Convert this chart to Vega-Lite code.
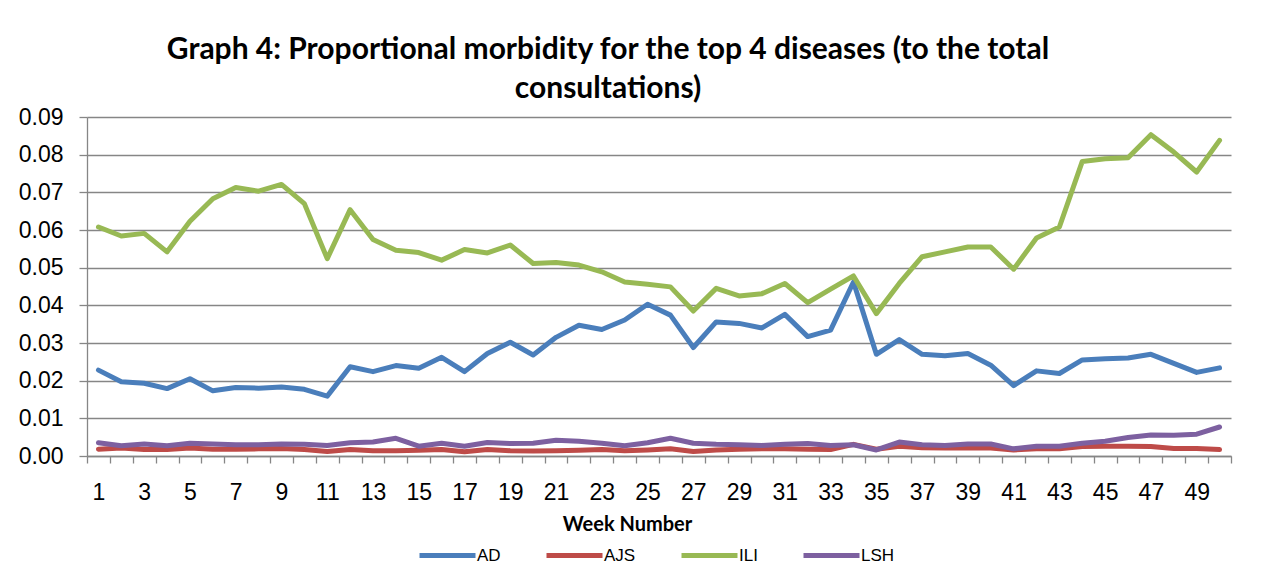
{
  "$schema": "https://vega.github.io/schema/vega-lite/v6.json",
  "autosize": {"type": "none"},
  "padding": {"left": 87, "top": 117, "right": 30, "bottom": 129},
  "width": 1144,
  "height": 339,
  "background": "white",
  "title": {
    "text": ["Graph 4: Proportional morbidity for the top 4 diseases (to the total", "consultations)"],
    "anchor": "middle",
    "frame": "group",
    "dx": -51,
    "font": "Lato",
    "fontWeight": "bold",
    "fontSize": 30,
    "lineHeight": 39,
    "color": "black",
    "offset": 2
  },
  "data": {"values": [
    {"week":1,"disease":"AD","value":0.0228},{"week":1,"disease":"AJS","value":0.0018},{"week":1,"disease":"ILI","value":0.0608},{"week":1,"disease":"LSH","value":0.0035},
    {"week":2,"disease":"AD","value":0.0197},{"week":2,"disease":"AJS","value":0.0021},{"week":2,"disease":"ILI","value":0.0584},{"week":2,"disease":"LSH","value":0.0027},
    {"week":3,"disease":"AD","value":0.0193},{"week":3,"disease":"AJS","value":0.0017},{"week":3,"disease":"ILI","value":0.0591},{"week":3,"disease":"LSH","value":0.0032},
    {"week":4,"disease":"AD","value":0.0179},{"week":4,"disease":"AJS","value":0.0017},{"week":4,"disease":"ILI","value":0.0542},{"week":4,"disease":"LSH","value":0.0027},
    {"week":5,"disease":"AD","value":0.0205},{"week":5,"disease":"AJS","value":0.0021},{"week":5,"disease":"ILI","value":0.0623},{"week":5,"disease":"LSH","value":0.0034},
    {"week":6,"disease":"AD","value":0.0173},{"week":6,"disease":"AJS","value":0.0018},{"week":6,"disease":"ILI","value":0.0683},{"week":6,"disease":"LSH","value":0.0032},
    {"week":7,"disease":"AD","value":0.0182},{"week":7,"disease":"AJS","value":0.0018},{"week":7,"disease":"ILI","value":0.0713},{"week":7,"disease":"LSH","value":0.0030},
    {"week":8,"disease":"AD","value":0.0180},{"week":8,"disease":"AJS","value":0.0019},{"week":8,"disease":"ILI","value":0.0703},{"week":8,"disease":"LSH","value":0.0030},
    {"week":9,"disease":"AD","value":0.0183},{"week":9,"disease":"AJS","value":0.0020},{"week":9,"disease":"ILI","value":0.0721},{"week":9,"disease":"LSH","value":0.0032},
    {"week":10,"disease":"AD","value":0.0177},{"week":10,"disease":"AJS","value":0.0017},{"week":10,"disease":"ILI","value":0.0670},{"week":10,"disease":"LSH","value":0.0031},
    {"week":11,"disease":"AD","value":0.0159},{"week":11,"disease":"AJS","value":0.0012},{"week":11,"disease":"ILI","value":0.0524},{"week":11,"disease":"LSH","value":0.0028},
    {"week":12,"disease":"AD","value":0.0237},{"week":12,"disease":"AJS","value":0.0017},{"week":12,"disease":"ILI","value":0.0654},{"week":12,"disease":"LSH","value":0.0035},
    {"week":13,"disease":"AD","value":0.0224},{"week":13,"disease":"AJS","value":0.0014},{"week":13,"disease":"ILI","value":0.0575},{"week":13,"disease":"LSH","value":0.0037},
    {"week":14,"disease":"AD","value":0.0240},{"week":14,"disease":"AJS","value":0.0014},{"week":14,"disease":"ILI","value":0.0546},{"week":14,"disease":"LSH","value":0.0047},
    {"week":15,"disease":"AD","value":0.0233},{"week":15,"disease":"AJS","value":0.0015},{"week":15,"disease":"ILI","value":0.0540},{"week":15,"disease":"LSH","value":0.0026},
    {"week":16,"disease":"AD","value":0.0262},{"week":16,"disease":"AJS","value":0.0017},{"week":16,"disease":"ILI","value":0.0520},{"week":16,"disease":"LSH","value":0.0034},
    {"week":17,"disease":"AD","value":0.0224},{"week":17,"disease":"AJS","value":0.0011},{"week":17,"disease":"ILI","value":0.0548},{"week":17,"disease":"LSH","value":0.0026},
    {"week":18,"disease":"AD","value":0.0272},{"week":18,"disease":"AJS","value":0.0017},{"week":18,"disease":"ILI","value":0.0539},{"week":18,"disease":"LSH","value":0.0036},
    {"week":19,"disease":"AD","value":0.0302},{"week":19,"disease":"AJS","value":0.0014},{"week":19,"disease":"ILI","value":0.0560},{"week":19,"disease":"LSH","value":0.0033},
    {"week":20,"disease":"AD","value":0.0268},{"week":20,"disease":"AJS","value":0.0013},{"week":20,"disease":"ILI","value":0.0511},{"week":20,"disease":"LSH","value":0.0034},
    {"week":21,"disease":"AD","value":0.0315},{"week":21,"disease":"AJS","value":0.0014},{"week":21,"disease":"ILI","value":0.0514},{"week":21,"disease":"LSH","value":0.0042},
    {"week":22,"disease":"AD","value":0.0347},{"week":22,"disease":"AJS","value":0.0015},{"week":22,"disease":"ILI","value":0.0507},{"week":22,"disease":"LSH","value":0.0039},
    {"week":23,"disease":"AD","value":0.0336},{"week":23,"disease":"AJS","value":0.0017},{"week":23,"disease":"ILI","value":0.0489},{"week":23,"disease":"LSH","value":0.0034},
    {"week":24,"disease":"AD","value":0.0361},{"week":24,"disease":"AJS","value":0.0014},{"week":24,"disease":"ILI","value":0.0462},{"week":24,"disease":"LSH","value":0.0027},
    {"week":25,"disease":"AD","value":0.0403},{"week":25,"disease":"AJS","value":0.0016},{"week":25,"disease":"ILI","value":0.0456},{"week":25,"disease":"LSH","value":0.0035},
    {"week":26,"disease":"AD","value":0.0374},{"week":26,"disease":"AJS","value":0.0019},{"week":26,"disease":"ILI","value":0.0449},{"week":26,"disease":"LSH","value":0.0047},
    {"week":27,"disease":"AD","value":0.0288},{"week":27,"disease":"AJS","value":0.0012},{"week":27,"disease":"ILI","value":0.0385},{"week":27,"disease":"LSH","value":0.0034},
    {"week":28,"disease":"AD","value":0.0356},{"week":28,"disease":"AJS","value":0.0016},{"week":28,"disease":"ILI","value":0.0445},{"week":28,"disease":"LSH","value":0.0031},
    {"week":29,"disease":"AD","value":0.0352},{"week":29,"disease":"AJS","value":0.0018},{"week":29,"disease":"ILI","value":0.0425},{"week":29,"disease":"LSH","value":0.0030},
    {"week":30,"disease":"AD","value":0.0340},{"week":30,"disease":"AJS","value":0.0019},{"week":30,"disease":"ILI","value":0.0431},{"week":30,"disease":"LSH","value":0.0028},
    {"week":31,"disease":"AD","value":0.0376},{"week":31,"disease":"AJS","value":0.0019},{"week":31,"disease":"ILI","value":0.0458},{"week":31,"disease":"LSH","value":0.0031},
    {"week":32,"disease":"AD","value":0.0317},{"week":32,"disease":"AJS","value":0.0018},{"week":32,"disease":"ILI","value":0.0407},{"week":32,"disease":"LSH","value":0.0033},
    {"week":33,"disease":"AD","value":0.0334},{"week":33,"disease":"AJS","value":0.0017},{"week":33,"disease":"ILI","value":0.0443},{"week":33,"disease":"LSH","value":0.0028},
    {"week":34,"disease":"AD","value":0.0462},{"week":34,"disease":"AJS","value":0.0031},{"week":34,"disease":"ILI","value":0.0478},{"week":34,"disease":"LSH","value":0.0030},
    {"week":35,"disease":"AD","value":0.0270},{"week":35,"disease":"AJS","value":0.0018},{"week":35,"disease":"ILI","value":0.0378},{"week":35,"disease":"LSH","value":0.0016},
    {"week":36,"disease":"AD","value":0.0309},{"week":36,"disease":"AJS","value":0.0026},{"week":36,"disease":"ILI","value":0.0458},{"week":36,"disease":"LSH","value":0.0037},
    {"week":37,"disease":"AD","value":0.0270},{"week":37,"disease":"AJS","value":0.0022},{"week":37,"disease":"ILI","value":0.0529},{"week":37,"disease":"LSH","value":0.0030},
    {"week":38,"disease":"AD","value":0.0266},{"week":38,"disease":"AJS","value":0.0021},{"week":38,"disease":"ILI","value":0.0542},{"week":38,"disease":"LSH","value":0.0028},
    {"week":39,"disease":"AD","value":0.0272},{"week":39,"disease":"AJS","value":0.0021},{"week":39,"disease":"ILI","value":0.0555},{"week":39,"disease":"LSH","value":0.0032},
    {"week":40,"disease":"AD","value":0.0241},{"week":40,"disease":"AJS","value":0.0021},{"week":40,"disease":"ILI","value":0.0555},{"week":40,"disease":"LSH","value":0.0032},
    {"week":41,"disease":"AD","value":0.0187},{"week":41,"disease":"AJS","value":0.0016},{"week":41,"disease":"ILI","value":0.0496},{"week":41,"disease":"LSH","value":0.0019},
    {"week":42,"disease":"AD","value":0.0226},{"week":42,"disease":"AJS","value":0.0019},{"week":42,"disease":"ILI","value":0.0579},{"week":42,"disease":"LSH","value":0.0026},
    {"week":43,"disease":"AD","value":0.0219},{"week":43,"disease":"AJS","value":0.0019},{"week":43,"disease":"ILI","value":0.0608},{"week":43,"disease":"LSH","value":0.0026},
    {"week":44,"disease":"AD","value":0.0255},{"week":44,"disease":"AJS","value":0.0025},{"week":44,"disease":"ILI","value":0.0782},{"week":44,"disease":"LSH","value":0.0034},
    {"week":45,"disease":"AD","value":0.0258},{"week":45,"disease":"AJS","value":0.0026},{"week":45,"disease":"ILI","value":0.0789},{"week":45,"disease":"LSH","value":0.0039},
    {"week":46,"disease":"AD","value":0.0260},{"week":46,"disease":"AJS","value":0.0026},{"week":46,"disease":"ILI","value":0.0792},{"week":46,"disease":"LSH","value":0.0049},
    {"week":47,"disease":"AD","value":0.0270},{"week":47,"disease":"AJS","value":0.0025},{"week":47,"disease":"ILI","value":0.0853},{"week":47,"disease":"LSH","value":0.0056},
    {"week":48,"disease":"AD","value":0.0246},{"week":48,"disease":"AJS","value":0.0020},{"week":48,"disease":"ILI","value":0.0807},{"week":48,"disease":"LSH","value":0.0055},
    {"week":49,"disease":"AD","value":0.0222},{"week":49,"disease":"AJS","value":0.0020},{"week":49,"disease":"ILI","value":0.0754},{"week":49,"disease":"LSH","value":0.0058},
    {"week":50,"disease":"AD","value":0.0234},{"week":50,"disease":"AJS","value":0.0017},{"week":50,"disease":"ILI","value":0.0838},{"week":50,"disease":"LSH","value":0.0077}
  ]},
  "mark": {"type": "line", "strokeWidth": 5, "strokeJoin": "round", "strokeCap": "round"},
  "encoding": {
    "x": {
      "field": "week",
      "type": "quantitative",
      "scale": {"domain": [0.5, 50.5], "nice": false, "zero": false},
      "axis": {
        "title": "Week Number",
        "titleFont": "Lato",
        "titleFontWeight": "bold",
        "titleFontSize": 20,
        "titleColor": "black",
        "titleX": 540,
        "titleY": 74,
        "titleAlign": "center",
        "titleAnchor": null,
        "titleBaseline": "alphabetic",
        "values": [0.5,1,1.5,2.5,3,3.5,4.5,5,5.5,6.5,7,7.5,8.5,9,9.5,10.5,11,11.5,12.5,13,13.5,14.5,15,15.5,16.5,17,17.5,18.5,19,19.5,20.5,21,21.5,22.5,23,23.5,24.5,25,25.5,26.5,27,27.5,28.5,29,29.5,30.5,31,31.5,32.5,33,33.5,34.5,35,35.5,36.5,37,37.5,38.5,39,39.5,40.5,41,41.5,42.5,43,43.5,44.5,45,45.5,46.5,47,47.5,48.5,49,49.5,50.5],
        "labelExpr": "datum.value % 1 == 0 ? format(datum.value, 'd') : ''",
        "labelFont": "Liberation Sans",
        "labelFontSize": 23,
        "labelColor": "black",
        "labelOverlap": false,
        "labelFlush": false,
        "labelBound": false,
        "labelBaseline": "alphabetic",
        "labelPadding": 36,
        "tickSize": 7,
        "tickWidth": 1.3,
        "tickColor": "#868686",
        "tickOpacity": {"condition": {"test": "datum.value % 1 != 0", "value": 1}, "value": 0},
        "domainColor": "#868686",
        "domainWidth": 1.3,
        "grid": false
      }
    },
    "y": {
      "field": "value",
      "type": "quantitative",
      "scale": {"domain": [0, 0.09], "nice": false},
      "axis": {
        "title": null,
        "values": [0, 0.01, 0.02, 0.03, 0.04, 0.05, 0.06, 0.07, 0.08, 0.09],
        "format": ".2f",
        "labelFont": "Liberation Sans",
        "labelFontSize": 23,
        "labelColor": "black",
        "labelPadding": 16,
        "tickSize": 8,
        "tickWidth": 1.3,
        "tickColor": "#868686",
        "domainColor": "#868686",
        "domainWidth": 1.3,
        "grid": true,
        "gridColor": "#868686",
        "gridWidth": 1.3
      }
    },
    "color": {
      "field": "disease",
      "type": "nominal",
      "scale": {"domain": ["AD", "AJS", "ILI", "LSH"], "range": ["#4A7EBB", "#BE4B48", "#98B954", "#7D60A0"]},
      "legend": {
        "title": null,
        "orient": "none",
        "direction": "horizontal",
        "legendX": 330,
        "legendY": 408,
        "gridAlign": "none",
        "symbolType": "stroke",
        "symbolSize": 3136,
        "symbolStrokeWidth": 5,
        "labelFont": "Liberation Sans",
        "labelFontSize": 17,
        "labelColor": "black",
        "labelOffset": -1,
        "columnPadding": 35
      }
    }
  },
  "config": {
    "view": {"stroke": null}
  }
}
